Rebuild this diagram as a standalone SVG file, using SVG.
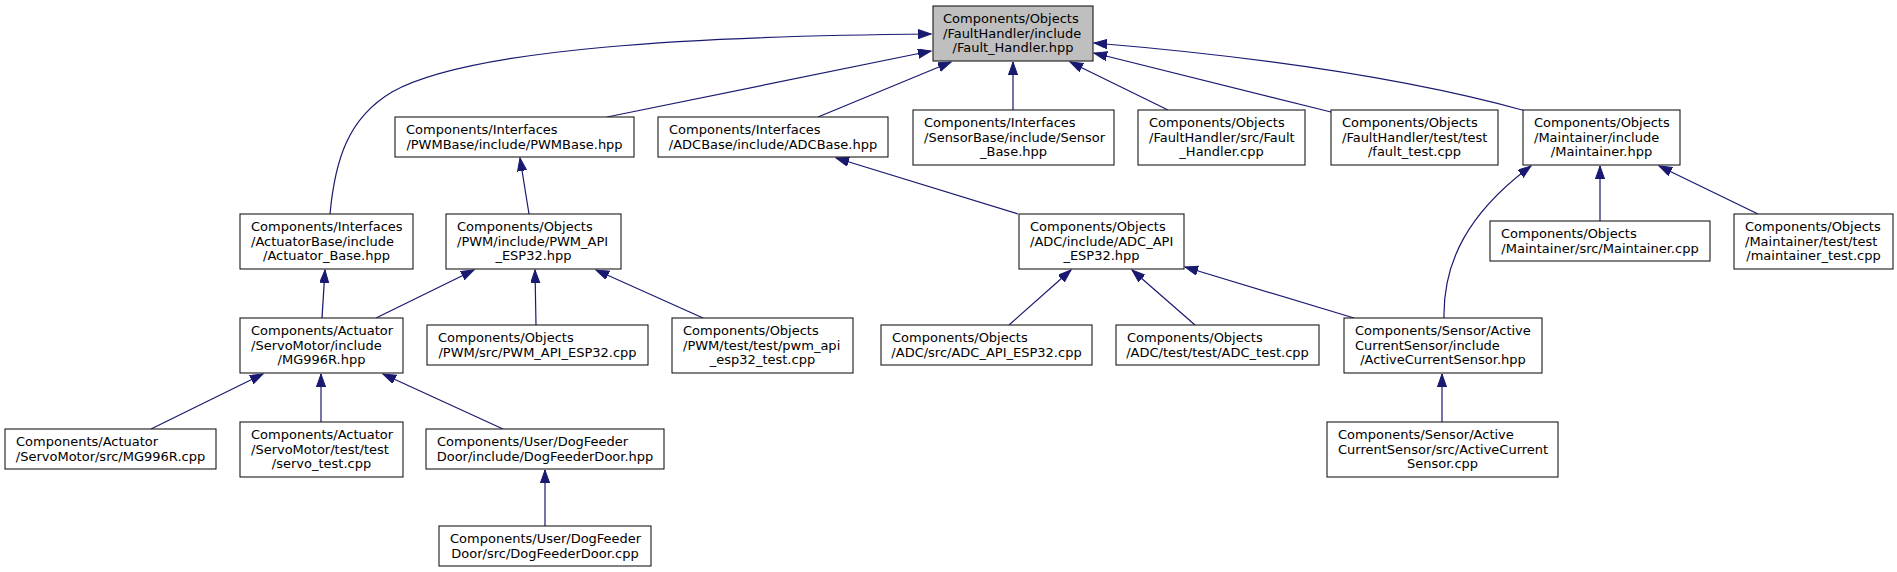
<svg xmlns="http://www.w3.org/2000/svg" width="1897" height="572" viewBox="0 0 1897 572">
<style>
.node rect{fill:#ffffff;stroke:#1a1a1a;stroke-width:1.1}
.node.root rect{fill:#bfbfbf}
text{font-family:"DejaVu Sans","Liberation Sans",sans-serif;font-size:13px;fill:#000}
.c{text-anchor:middle}
.edges path{fill:none;stroke:#191970;stroke-width:1.2;marker-end:url(#ah)}
</style>
<defs>
<marker id="ah" markerUnits="userSpaceOnUse" markerWidth="14" markerHeight="10" refX="13" refY="4.6" orient="auto">
<path d="M0,0 L13,4.6 L0,9.2 z" fill="#191970" stroke="#191970" stroke-width="1"/>
</marker>
</defs>
<rect x="0" y="0" width="1897" height="572" fill="#ffffff"/>
<g class="edges" id="connectors">
<path d="M330,214 C335,160 348,118 392,92 C470,48 700,36 931,34"/>
<path d="M607,117 L931,51"/>
<path d="M818,117 L951,62"/>
<path d="M1013,110 L1013,62"/>
<path d="M1168,110 L1070,62"/>
<path d="M1331,112 L1094,53"/>
<path d="M1526,111 C1400,76 1250,56 1094,43"/>
<path d="M529,214 L520,158"/>
<path d="M1018,214 L836,158"/>
<path d="M322,318 L325,270"/>
<path d="M376,318 L474,270"/>
<path d="M536,325 L535,270"/>
<path d="M703,318 L596,270"/>
<path d="M1009,325 L1071,270"/>
<path d="M1195,325 L1132,270"/>
<path d="M1354,318 L1185,267"/>
<path d="M1444,318 C1443,262 1468,213 1531,166"/>
<path d="M1600,221 L1600,166"/>
<path d="M1758,214 L1659,166"/>
<path d="M151,429 L263,374"/>
<path d="M321,422 L321,374"/>
<path d="M503,429 L383,374"/>
<path d="M545,526 L545,470"/>
<path d="M1442,422 L1442,374"/>
</g>
<g class="node root" id="n0"><rect x="933" y="6" width="160" height="55"/><text x="943" y="23">Components/Objects</text><text x="943" y="37.5">/FaultHandler/include</text><text class="c" x="1013" y="52">/Fault_Handler.hpp</text></g>
<g class="node" id="n1"><rect x="395" y="117" width="239" height="40"/><text x="406" y="133.5">Components/Interfaces</text><text class="c" x="514.5" y="148.5">/PWMBase/include/PWMBase.hpp</text></g>
<g class="node" id="n2"><rect x="658" y="117" width="230" height="40"/><text x="669" y="133.5">Components/Interfaces</text><text class="c" x="773" y="148.5">/ADCBase/include/ADCBase.hpp</text></g>
<g class="node" id="n3"><rect x="913" y="110" width="201" height="55"/><text x="924" y="127">Components/Interfaces</text><text x="924" y="141.5">/SensorBase/include/Sensor</text><text class="c" x="1013.5" y="156">_Base.hpp</text></g>
<g class="node" id="n4"><rect x="1138" y="110" width="167" height="55"/><text x="1149" y="127">Components/Objects</text><text x="1149" y="141.5">/FaultHandler/src/Fault</text><text class="c" x="1221.5" y="156">_Handler.cpp</text></g>
<g class="node" id="n5"><rect x="1331" y="110" width="167" height="55"/><text x="1342" y="127">Components/Objects</text><text x="1342" y="141.5">/FaultHandler/test/test</text><text class="c" x="1414.5" y="156">/fault_test.cpp</text></g>
<g class="node" id="n6"><rect x="1523" y="110" width="157" height="55"/><text x="1534" y="127">Components/Objects</text><text x="1534" y="141.5">/Maintainer/include</text><text class="c" x="1601.5" y="156">/Maintainer.hpp</text></g>
<g class="node" id="n7"><rect x="240" y="214" width="173" height="55"/><text x="251" y="231">Components/Interfaces</text><text x="251" y="245.5">/ActuatorBase/include</text><text class="c" x="326.5" y="260">/Actuator_Base.hpp</text></g>
<g class="node" id="n8"><rect x="446" y="214" width="175" height="55"/><text x="457" y="231">Components/Objects</text><text x="457" y="245.5">/PWM/include/PWM_API</text><text class="c" x="533.5" y="260">_ESP32.hpp</text></g>
<g class="node" id="n9"><rect x="1019" y="214" width="165" height="55"/><text x="1030" y="231">Components/Objects</text><text x="1030" y="245.5">/ADC/include/ADC_API</text><text class="c" x="1101.5" y="260">_ESP32.hpp</text></g>
<g class="node" id="n10"><rect x="1490" y="221" width="220" height="40"/><text x="1501" y="237.5">Components/Objects</text><text class="c" x="1600" y="252.5">/Maintainer/src/Maintainer.cpp</text></g>
<g class="node" id="n11"><rect x="1734" y="214" width="159" height="55"/><text x="1745" y="231">Components/Objects</text><text x="1745" y="245.5">/Maintainer/test/test</text><text class="c" x="1813.5" y="260">/maintainer_test.cpp</text></g>
<g class="node" id="n12"><rect x="240" y="318" width="163" height="55"/><text x="251" y="335">Components/Actuator</text><text x="251" y="349.5">/ServoMotor/include</text><text class="c" x="321.5" y="364">/MG996R.hpp</text></g>
<g class="node" id="n13"><rect x="427" y="325" width="221" height="40"/><text x="438" y="341.5">Components/Objects</text><text class="c" x="537.5" y="356.5">/PWM/src/PWM_API_ESP32.cpp</text></g>
<g class="node" id="n14"><rect x="672" y="318" width="181" height="55"/><text x="683" y="335">Components/Objects</text><text x="683" y="349.5">/PWM/test/test/pwm_api</text><text class="c" x="762.5" y="364">_esp32_test.cpp</text></g>
<g class="node" id="n15"><rect x="881" y="325" width="211" height="40"/><text x="892" y="341.5">Components/Objects</text><text class="c" x="986.5" y="356.5">/ADC/src/ADC_API_ESP32.cpp</text></g>
<g class="node" id="n16"><rect x="1116" y="325" width="203" height="40"/><text x="1127" y="341.5">Components/Objects</text><text class="c" x="1217.5" y="356.5">/ADC/test/test/ADC_test.cpp</text></g>
<g class="node" id="n17"><rect x="1344" y="318" width="198" height="55"/><text x="1355" y="335">Components/Sensor/Active</text><text x="1355" y="349.5">CurrentSensor/include</text><text class="c" x="1443" y="364">/ActiveCurrentSensor.hpp</text></g>
<g class="node" id="n18"><rect x="5" y="429" width="211" height="40"/><text x="16" y="445.5">Components/Actuator</text><text class="c" x="110.5" y="460.5">/ServoMotor/src/MG996R.cpp</text></g>
<g class="node" id="n19"><rect x="240" y="422" width="163" height="55"/><text x="251" y="439">Components/Actuator</text><text x="251" y="453.5">/ServoMotor/test/test</text><text class="c" x="321.5" y="468">/servo_test.cpp</text></g>
<g class="node" id="n20"><rect x="426" y="429" width="238" height="40"/><text x="437" y="445.5">Components/User/DogFeeder</text><text class="c" x="545" y="460.5">Door/include/DogFeederDoor.hpp</text></g>
<g class="node" id="n21"><rect x="439" y="526" width="212" height="40"/><text x="450" y="542.5">Components/User/DogFeeder</text><text class="c" x="545" y="557.5">Door/src/DogFeederDoor.cpp</text></g>
<g class="node" id="n22"><rect x="1327" y="422" width="231" height="55"/><text x="1338" y="439">Components/Sensor/Active</text><text x="1338" y="453.5">CurrentSensor/src/ActiveCurrent</text><text class="c" x="1442.5" y="468">Sensor.cpp</text></g>
</svg>
